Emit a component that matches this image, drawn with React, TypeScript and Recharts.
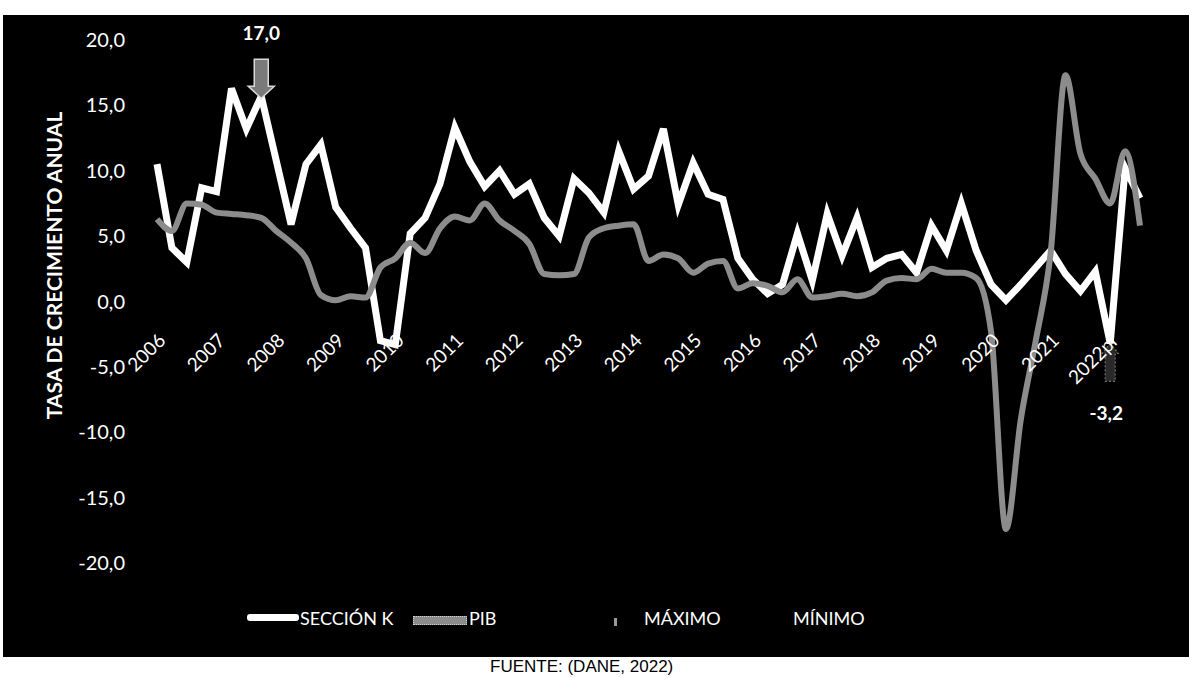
import { Legend, Line, LineChart, XAxis, YAxis } from "recharts";

const FONT = "Lato, 'Open Sans', sans-serif";

const years = [
  "2006", "2007", "2008", "2009", "2010", "2011", "2012", "2013", "2014",
  "2015", "2016", "2017", "2018", "2019", "2020", "2021", "2022pr",
];
const quarters = ["I", "II", "III", "IV"];
// 2006-I .. 2022pr-III
const periods = years.flatMap((y) => quarters.map((q) => `${y}-${q}`)).slice(0, 67);
const yearTicks = years.map((y) => `${y}-I`);
const yTicks = [-20, -15, -10, -5, 0, 5, 10, 15, 20];

const seccionK = [
  10.5, 4.1, 3.0, 8.7, 8.4, 16.3, 13.2, 15.7, 10.8, 5.9,
  10.5, 12.0, 7.2, 5.6, 4.1, -3.0, -3.3, 5.2, 6.4, 9.0,
  13.3, 10.7, 8.8, 10.0, 8.2, 9.0, 6.4, 5.0, 9.4, 8.3,
  6.8, 11.5, 8.6, 9.6, 13.2, 7.4, 10.6, 8.2, 7.8, 3.3,
  1.7, 0.6, 1.3, 5.2, 1.6, 6.7, 3.5, 6.4, 2.6, 3.3,
  3.6, 2.2, 5.8, 3.9, 7.5, 3.9, 1.3, 0.1, 1.3, 2.6,
  3.9, 2.1, 0.8, 2.3, -3.2, 10.2, 7.9,
];

const pib = [
  6.3, 5.4, 7.5, 7.4, 6.8, 6.7, 6.6, 6.4, 5.4, 4.5,
  3.3, 0.5, 0.1, 0.4, 0.3, 2.6, 3.3, 4.5, 3.7, 5.6,
  6.5, 6.2, 7.5, 6.2, 5.4, 4.4, 2.1, 2.0, 2.1, 4.9,
  5.6, 5.8, 5.9, 3.1, 3.6, 3.3, 2.2, 2.9, 3.1, 1.0,
  1.4, 1.2, 0.7, 1.7, 0.3, 0.4, 0.6, 0.4, 0.7, 1.6,
  1.8, 1.7, 2.5, 2.2, 2.2, 1.8, -2.3, -17.4, -9.0, -3.0,
  3.7, 17.3, 11.3, 9.4, 7.5, 11.5, 5.8,
];

const maxPeriod = "2007-IV";
const maxValue = 17.0;
const minPeriod = "2022pr-I";
const minValue = -3.2;

const data = periods.map((period, i) => ({
  period,
  seccionK: seccionK[i],
  pib: pib[i],
  maximo: period === maxPeriod ? maxValue : null,
  minimo: period === minPeriod ? minValue : null,
}));

const fmt = (v: number) => v.toFixed(1).replace(".", ",");

const PLOT_BOTTOM = 563;
const LABEL_TOP = 332;

const YearTick = ({ x, y, payload }: any) => {
  const label = String(payload.value).split("-")[0];
  return (
    <g transform={`translate(${x},${y - (PLOT_BOTTOM - LABEL_TOP)}) rotate(-45)`}>
      <text textAnchor="end" dy="0.72em" fill="#fff" fontSize={19} fontFamily={FONT}>
        {label}
      </text>
    </g>
  );
};

const MaxDot = (props: any) => {
  const { cx, cy, payload, index } = props;
  if (payload?.maximo == null || cx == null || cy == null) return <g key={`mx-${index}`} />;
  return (
    <g key={`mx-${index}`}>
      <path
        d={`M${cx - 7},${cy - 20} H${cx + 7} V${cy + 7} H${cx + 13} L${cx},${cy + 19} L${cx - 13},${cy + 7} H${cx - 7} Z`}
        fill="#7a7a7a"
        stroke="#d9d9d9"
        strokeWidth={1.5}
      />
      <text x={cx} y={cy - 39} textAnchor="middle" fill="#fff" fontWeight={700} fontSize={19} fontFamily={FONT}>
        {fmt(payload.maximo)}
      </text>
    </g>
  );
};

const MinDot = (props: any) => {
  const { cx, cy, payload, index } = props;
  if (payload?.minimo == null || cx == null || cy == null) return <g key={`mn-${index}`} />;
  return (
    <g key={`mn-${index}`}>
      <path
        d={`M${cx},${cy} L${cx + 8},${cy + 10} H${cx + 5} V${cy + 38} H${cx - 5} V${cy + 10} H${cx - 8} Z`}
        fill="#2a2a2a"
        stroke="#6f6f6f"
        strokeDasharray="2 2"
        strokeWidth={1.2}
      />
      <text x={cx - 4} y={cy + 77} textAnchor="middle" fill="#fff" fontWeight={700} fontSize={19} fontFamily={FONT}>
        {fmt(payload.minimo)}
      </text>
    </g>
  );
};

const legendText = { position: "absolute" as const, top: 0, lineHeight: "24px", fontSize: 18, color: "#fff", fontFamily: FONT };

const LegendContent = () => (
  <div style={{ position: "relative", width: 1193, height: 24 }}>
    <div style={{ position: "absolute", left: 247, top: 8, width: 52, height: 7, background: "#fff", borderRadius: 3 }} />
    <span style={{ ...legendText, left: 300 }}>SECCIÓN K</span>
    <div style={{ position: "absolute", left: 413, top: 10, width: 52, height: 7, background: "#8c8c8c", border: "1px dotted #cfcfcf" }} />
    <span style={{ ...legendText, left: 469 }}>PIB</span>
    <div style={{ position: "absolute", left: 614, top: 12, width: 3, height: 8, background: "#9a9a9a" }} />
    <span style={{ ...legendText, left: 644 }}>MÁXIMO</span>
    <span style={{ ...legendText, left: 793 }}>MÍNIMO</span>
  </div>
);

export default function App() {
  return (
    <div style={{ position: "absolute", left: 0, top: 0, width: 1193, height: 677, background: "#fff", overflow: "hidden" }}>
      <div style={{ position: "absolute", left: 3, top: 15, width: 1186, height: 642, background: "#000" }} />
      <div style={{ position: "absolute", left: 0, top: 0 }}>
        <LineChart width={1193} height={677} data={data} margin={{ top: 40, right: 53, bottom: 84, left: 57 }}>
          <XAxis
            dataKey="period"
            ticks={yearTicks}
            interval={0}
            tick={<YearTick />}
            axisLine={false}
            tickLine={false}
            tickSize={0}
            tickMargin={0}
            height={30}
          />
          <YAxis
            domain={[-20, 20]}
            ticks={yTicks}
            tickFormatter={fmt}
            tick={{ fill: "#fff", fontSize: 20, fontFamily: FONT }}
            axisLine={false}
            tickLine={false}
            tickSize={0}
            tickMargin={32}
            width={100}
            label={({ viewBox }: any) => (
              <text
                x={53}
                y={viewBox.y + viewBox.height / 2 - 36}
                transform={`rotate(-90, 53, ${viewBox.y + viewBox.height / 2 - 36})`}
                textAnchor="middle"
                dominantBaseline="central"
                fill="#fff"
                fontWeight={700}
                fontSize={21}
                fontFamily={FONT}
              >
                TASA DE CRECIMIENTO ANUAL
              </text>
            )}
          />
          <Legend
            verticalAlign="middle"
            align="center"
            wrapperStyle={{ top: 606, left: 0, width: 1193, height: 24 }}
            content={() => <LegendContent />}
          />
          <Line
            dataKey="seccionK"
            name="SECCIÓN K"
            type="linear"
            stroke="#fff"
            strokeWidth={7}
            strokeLinejoin="miter"
            dot={false}
            activeDot={false}
            isAnimationActive={false}
          />
          <Line
            dataKey="pib"
            name="PIB"
            type="monotone"
            stroke="#8c8c8c"
            strokeWidth={6}
            dot={false}
            activeDot={false}
            isAnimationActive={false}
          />
          <Line
            dataKey="maximo"
            name="MÁXIMO"
            stroke="none"
            dot={MaxDot}
            activeDot={false}
            isAnimationActive={false}
          />
          <Line
            dataKey="minimo"
            name="MÍNIMO"
            stroke="none"
            dot={MinDot}
            activeDot={false}
            isAnimationActive={false}
          />
        </LineChart>
      </div>
      <div
        style={{
          position: "absolute",
          left: 490,
          top: 657,
          lineHeight: "20px",
          fontFamily: "'Liberation Sans', Arial, sans-serif",
          fontSize: 17,
          color: "#000",
          whiteSpace: "nowrap",
        }}
      >
        FUENTE: (DANE, 2022)
      </div>
    </div>
  );
}
